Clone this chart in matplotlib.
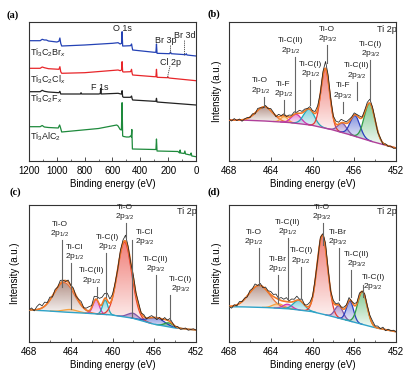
import numpy as np
import matplotlib
matplotlib.use('Agg')
import matplotlib.pyplot as plt
from matplotlib.ticker import MultipleLocator
from matplotlib.colors import to_rgb

plt.rcParams['font.family'] = ['Liberation Sans', 'DejaVu Sans']
plt.rcParams['mathtext.fontset'] = 'custom'
plt.rcParams['mathtext.rm'] = 'Liberation Sans'
plt.rcParams['mathtext.it'] = 'Liberation Sans:italic'
plt.rcParams['mathtext.bf'] = 'Liberation Sans:bold'

# ---------------- (a) survey spectra ----------------
br_E = [1200, 1120, 1105, 1090, 1075, 1060, 1000, 985, 978, 972, 965, 800, 600, 560, 545, 535, 531, 527,
        520, 470, 463, 459, 455, 300, 288, 284, 280, 190, 183, 178, 75, 70, 65, 0]
br_I = [120.3, 120.3, 121.7, 121, 121, 120, 119, 119.7, 123, 117.7, 115, 116, 117.7, 118.3, 117, 117.7, 129.3, 115,
        115, 115.3, 117, 113.7, 111, 108.7, 108.7, 117, 107.7, 107.3, 109, 107.3, 106.3, 107.3, 106, 105]
cl_E = [1200, 1120, 1105, 1090, 1060, 985, 978, 972, 965, 800, 560, 545, 535, 531, 527, 520, 470, 463, 459, 455,
        300, 288, 284, 280, 205, 200, 195, 0]
cl_I = [92.7, 92.7, 94, 93.3, 92.3, 91.7, 94.3, 89.3, 87.7, 88.3, 91, 90.3, 91, 99.3, 89.3, 89, 89.3, 91.7, 87.7, 86,
        84.3, 84.3, 91.7, 83.7, 83.3, 84, 83, 80.3]
f_E = [1200, 1120, 1105, 1090, 1060, 985, 978, 972, 965, 830, 826, 822, 700, 688, 684, 680, 560, 540, 535, 531, 527,
       520, 470, 463, 459, 455, 300, 288, 284, 280, 0]
f_I = [69.3, 69.3, 70.7, 69.7, 69, 68.3, 69.7, 67, 67, 67, 68.3, 67, 67, 67.3, 72.7, 67, 67.7, 67, 67, 70.3, 64.3,
       63.7, 63.7, 65, 62.3, 61, 59.7, 59.7, 62.7, 59, 56]
al_E = [1200, 1120, 1105, 1090, 1060, 990, 980, 975, 965, 700, 570, 560, 545, 536, 531, 527, 520, 500, 480, 470, 465,
        461, 457, 300, 288, 284, 280, 130, 118, 114, 110, 85, 80, 75, 40, 35, 30, 0]
al_I = [34.3, 34.3, 35.5, 34, 33.5, 33, 36, 34, 29, 32.5, 36, 35, 31.5, 31, 58.3, 25, 24.5, 24, 24, 25, 24,
        31.5, 12, 11.5, 11.5, 22, 10, 9.5, 8, 11, 8, 7.5, 10, 7, 6, 8, 5, 4.3]
survey_names = ['Ti$_3$C$_2$Br$_x$', 'Ti$_3$C$_2$Cl$_x$', 'Ti$_3$C$_2$F$_x$', 'Ti$_3$AlC$_2$']
survey_name_y = [108.7, 81.7, 62, 24.3]
survey_colors = ['#2442B5', '#E8262A', '#222222', '#1E8A3C']

# ---------------- Ti 2p fits ----------------
comp_colors = ['#E8703A', '#F5A040', '#D033B0', '#20A8B8', '#E83A30', '#7E57A8', '#2B3FBF', '#2E9B45']
fill_colors = ['#8C5A4A', '#F5B060', '#D84FC0', '#40B8C8', '#E83A30', '#8E67B8', '#4B5FCF', '#3EAB55']
bg_E = [468, 466, 464, 462, 460, 458, 456, 454, 452]

# (b) Ti3C2Fx
b_names = ['Ti-O\n2p$_{1/2}$', 'Ti-F\n2p$_{1/2}$', 'Ti-C(II)\n2p$_{1/2}$', 'Ti-C(I)\n2p$_{1/2}$',
           'Ti-O\n2p$_{3/2}$', 'Ti-F\n2p$_{3/2}$', 'Ti-C(II)\n2p$_{3/2}$', 'Ti-C(I)\n2p$_{3/2}$']
b_center = [464.6, 462.7, 461.55, 460.33, 458.77, 457.14, 455.92, 454.52]
b_height = [14.2, 5.6, 9, 15.7, 59.7, 9.3, 20.6, 37.5]
b_fwhm = [1.9, 0.8, 1.1, 1.2, 1.0, 1.0, 1.1, 1.2]
b_bg = [41, 40.7, 39.7, 38.3, 35.7, 31, 25, 18.5, 13]
b_resid = [1, -1, 1.5, -0.5, 1, -1.5, 0.5, 1, -0.5,
           1.5, -1, 2, 0.5, -1, 1.5, -0.5, 2,
           1, -1, 2.5, 0.5, 1.5, -0.5, 2, 1,
           2.5, 1, 3, 1.5, 2, 0.5, 2.5, 1,
           2, 3, 1, 4, 7, 5, 2, 1,
           3, 2, 3.5, 2, 1.5, 2.5, 1, 2,
           1, 2, 0.5, 2, 3, 4, 2, 1,
           -1, 1, -1.5, 1, -0.5, 0.5, -1, 0]
b_text_x = [465.0, 462.8, 462.05, 460.2, 458.6, 457.1, 455.8, 454.45]
b_text_y = [64.3, 61, 104.3, 81, 116, 59.3, 79.3, 101]
b_line_x = [464.6, 462.75, 461.7, 460.23, 458.65, 457.1, 455.73, 454.45]
b_line_top = [64.3, 61, 104.3, 81, 116, 59.3, 79.3, 101]
b_line_bot = [54.3, 46, 49, 56, 97.7, 47.7, 61, 62]

# (c) Ti3C2Clx
c_names = ['Ti-O\n2p$_{1/2}$', 'Ti-Cl\n2p$_{1/2}$', 'Ti-C(II)\n2p$_{1/2}$', 'Ti-C(I)\n2p$_{1/2}$',
           'Ti-O\n2p$_{3/2}$', 'Ti-Cl\n2p$_{3/2}$', 'Ti-C(II)\n2p$_{3/2}$', 'Ti-C(I)\n2p$_{3/2}$']
c_center = [464.62, 464.0, 461.57, 460.7, 458.84, 458.03, 455.8, 454.6]
c_height = [29.5, 3, 14.4, 14.5, 74.7, 5, 7, 4]
c_fwhm = [2.3, 1.6, 0.7, 0.6, 1.6, 1.2, 1.8, 1.0]
c_bg = [32, 31, 29.5, 28.5, 27, 23.7, 17.7, 14, 12]
c_resid = [0, 2, -1, 3, 5, 2, 4, 1, 3,
           -1, 2, 0, 3, 1, -1, 2, 0,
           2, -1, 1, 3, 0, 2, 4, 2,
           5, 3, 6, 7, 5, 7, 4, 3,
           2, 0, 3, 3, 6, 2, -1, 3,
           1, 3, 0, 2, -1, 1, 2, 0,
           -2, 1, -1, 2, 0, 3, 1, -1,
           1, -1, 0, 1, -1, 0, 1, 0]
c_text_x = [465.04, 463.6, 462.0, 460.5, 458.8, 456.9, 455.9, 453.5]
c_text_y = [102, 78.7, 55.3, 88.7, 118.7, 93.7, 67, 47]
c_line_x = [464.8, 464.0, 461.5, 460.6, 458.7, 458.1, 455.8, 454.5]
c_line_top = [102, 78.7, 55.3, 88.7, 118.7, 102, 67, 47]
c_line_bot = [55, 33, 43.7, 45.3, 103.7, 25.3, 24.3, 22]

# (d) Ti3C2Brx
d_names = ['Ti-O\n2p$_{1/2}$', 'Ti-Br\n2p$_{1/2}$', 'Ti-C(II)\n2p$_{1/2}$', 'Ti-C(I)\n2p$_{1/2}$',
           'Ti-O\n2p$_{3/2}$', 'Ti-Br\n2p$_{3/2}$', 'Ti-C(II)\n2p$_{3/2}$', 'Ti-C(I)\n2p$_{3/2}$']
d_center = [465.1, 463.27, 462.4, 461.3, 459.05, 457.47, 456.41, 455.22]
d_height = [22, 4.5, 4.5, 9.7, 79, 12.4, 20, 33]
d_fwhm = [2.3, 1.2, 1.0, 1.2, 1.2, 0.9, 0.8, 1.05]
d_bg = [35.3, 35, 34.3, 33, 30.3, 25.3, 19.7, 14.3, 10.3]
d_resid = [0, -2, 1, -1, 2, 0, 1, -1, 2,
           1, 3, 0, 2, -1, 2, 1, 3,
           2, 4, 1, 3, 2, 4, 1, 3,
           2, 4, 1, 3, 0, 2, 3, 1,
           2, 0, 3, 2, 5, 2, 0, 2,
           1, 2, 0, 2, 1, 3, 0, 2,
           1, 3, 0, 2, 1, 2, 3, 1,
           2, 0, 2, -1, 1, 0, 1, 0]
d_text_x = [465.6, 463.3, 462.4, 461.1, 459.15, 457.6, 455.8, 454.2]
d_text_y = [93.7, 67, 103.7, 75.3, 118.7, 93.7, 72, 48.7]
d_line_x = [465.1, 463.27, 462.3, 461.1, 459.0, 457.47, 456.35, 455.2]
d_line_top = [93.7, 67, 103.7, 75.3, 118.7, 93.7, 72, 57]
d_line_bot = [57, 38.7, 42, 43.7, 97, 42, 45.3, 45]

W, H = 409, 377
fig = plt.figure(figsize=(W / 100, H / 100), dpi=100)


def box(l, t, r, b):
    return [l / W, 1 - b / H, (r - l) / W, (b - t) / H]


def style(ax):
    for s in ax.spines.values():
        s.set_linewidth(0.8)
        s.set_color('#333333')
    ax.set_yticks([])
    ax.tick_params(axis='x', which='major', direction='in', length=3, width=0.6, labelsize=7, pad=3.5,
                   color='#333333')
    ax.tick_params(axis='x', which='minor', direction='in', length=1.8, width=0.5, color='#333333')
    ax.set_xlabel('Binding energy (eV)', fontsize=7, labelpad=2)


def gauss(x, c, h, w):
    return h * np.exp(-4 * np.log(2) * (x - c) ** 2 / w ** 2)


def grad_fill(ax, x, y0, y1, color, amax=0.65, amin=0.06):
    poly = ax.fill_between(x, y0, y1, facecolor='none', edgecolor='none')
    n = 64
    g = np.zeros((n, 1, 4))
    g[:, 0, :3] = to_rgb(color)
    g[:, 0, 3] = np.linspace(amax, amin, n)
    im = ax.imshow(g, aspect='auto', extent=[x.min(), x.max(), y0.min(), y1.max()], origin='upper',
                   zorder=1, interpolation='bilinear')
    im.set_clip_path(poly.get_paths()[0], transform=ax.transData)


def ti2p(ax, center, height, fwhm, bg, resid, names, tx, ty, lx, ltop, lbot, bgcolor, ymax):
    x = np.linspace(452, 468, 801)
    base = np.interp(x, bg_E[::-1], bg[::-1])
    env = base.copy()
    for i in range(len(center)):
        p = gauss(x, center[i], height[i], fwhm[i])
        env += p
        m = p > 0.05
        grad_fill(ax, x[m], base[m], (base + p)[m], fill_colors[i])
        ax.plot(x[m], (base + p)[m], color=comp_colors[i], lw=0.9, zorder=3)
    ax.plot(x, base, color=bgcolor, lw=1.0, zorder=3)
    ax.plot(x, env, color='#F07A28', lw=1.2, zorder=4)
    xr = np.linspace(468, 452, 65)
    baser = np.interp(xr, bg_E[::-1], bg[::-1])
    envr = baser + sum(gauss(xr, center[i], height[i], fwhm[i]) for i in range(len(center)))
    ax.plot(xr, envr + np.array(resid), color='#222222', lw=0.55, zorder=5)
    for i in range(len(names)):
        ax.plot([lx[i], lx[i]], [ltop[i], lbot[i]], color='#666666', lw=0.8, zorder=6)
        ax.text(tx[i], ty[i] + 1, names[i], ha='center', va='bottom', fontsize=6, linespacing=1.05,
                color='#222222', zorder=7)
    ax.text(452.9, ymax - 7, 'Ti 2p', ha='center', va='center', fontsize=6.5, color='#222222')
    ax.set_xlim(468, 452)
    ax.set_ylim(0, ymax)
    ax.xaxis.set_major_locator(MultipleLocator(4))
    ax.xaxis.set_minor_locator(MultipleLocator(2))
    style(ax)


# (a)
ax = fig.add_axes(box(29, 22, 196, 161))
for E_, I_, c in zip([br_E, cl_E, f_E, al_E], [br_I, cl_I, f_I, al_I], survey_colors):
    ax.plot(E_, I_, color=c, lw=0.9)
for n, y in zip(survey_names, survey_name_y):
    ax.text(1190, y, n, ha='left', va='center', fontsize=6.5, color='#222222')
ax.text(527, 132.7, 'O 1s', ha='center', va='center', fontsize=6.5, color='#222222')
ax.text(690, 73.7, 'F 1s', ha='center', va='center', fontsize=6.5, color='#222222')
ax.text(215, 120.3, 'Br 3p', ha='center', va='center', fontsize=6.5, color='#222222')
ax.text(79, 125, 'Br 3d', ha='center', va='center', fontsize=6.5, color='#222222')
ax.text(180, 98.3, 'Cl 2p', ha='center', va='center', fontsize=6.5, color='#222222')
ax.plot([187, 187], [116, 108.3], color='#444444', lw=0.6, ls=(0, (1.5, 1)))
ax.plot([83, 83], [121, 106], color='#444444', lw=0.6, ls=(0, (1.5, 1)))
ax.plot([187, 205], [95, 83.7], color='#444444', lw=0.6, ls=(0, (1.5, 1)))
ax.set_xlim(1200, 0)
ax.set_ylim(0, 139)
ax.xaxis.set_major_locator(MultipleLocator(200))
ax.xaxis.set_minor_locator(MultipleLocator(100))
style(ax)

# (b)
axb = fig.add_axes(box(229, 22, 396, 161))
ti2p(axb, b_center, b_height, b_fwhm, b_bg, b_resid, b_names, b_text_x, b_text_y, b_line_x, b_line_top,
     b_line_bot, '#B0409A', 139)

# (c)
axc = fig.add_axes(box(29, 205, 196, 342))
ti2p(axc, c_center, c_height, c_fwhm, c_bg, c_resid, c_names, c_text_x, c_text_y, c_line_x, c_line_top,
     c_line_bot, '#2FA3C8', 137)

# (d)
axd = fig.add_axes(box(229, 205, 396, 342))
ti2p(axd, d_center, d_height, d_fwhm, d_bg, d_resid, d_names, d_text_x, d_text_y, d_line_x, d_line_top,
     d_line_bot, '#2FA3C8', 137)

for lab, (x, y) in zip(['(a)', '(b)', '(c)', '(d)'], [(13, 15), (214, 14), (15, 192), (214, 192)]):
    fig.text(x / W, 1 - y / H, lab, ha='center', va='center', fontsize=7.5, fontweight='bold',
             family='Liberation Serif')
for x, y in [(217, 91.5), (15, 273.5), (217, 273.5)]:
    fig.text(x / W, 1 - y / H, 'Intensity (a.u.)', ha='center', va='center', rotation=90, fontsize=7)

fig.savefig('out.png', dpi=100)
